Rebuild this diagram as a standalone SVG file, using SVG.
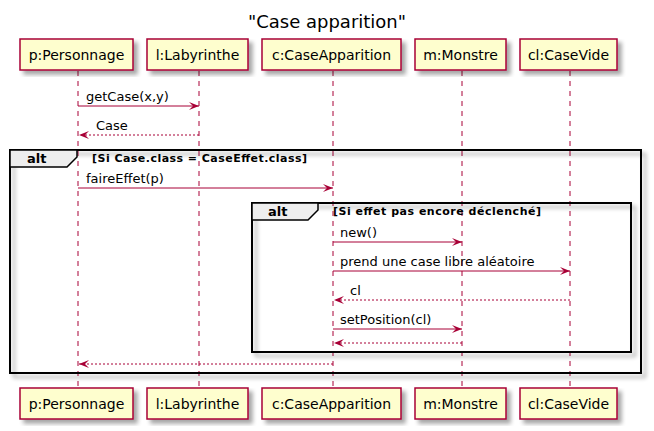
<svg xmlns="http://www.w3.org/2000/svg" width="654" height="431" viewBox="0 0 654 431">
<defs>
<filter id="sh" x="-10%" y="-10%" width="130%" height="130%">
<feGaussianBlur in="SourceAlpha" stdDeviation="2"/>
<feOffset dx="4" dy="4" result="b"/>
<feComponentTransfer><feFuncA type="linear" slope="0.35"/></feComponentTransfer>
<feMerge><feMergeNode/><feMergeNode in="SourceGraphic"/></feMerge>
</filter>
<marker id="ah" viewBox="0 0 10 8" refX="10" refY="4" markerWidth="10" markerHeight="8" markerUnits="userSpaceOnUse" orient="auto">
<polygon points="0,0 10,4 0,8 4,4" fill="#A80036"/>
</marker>
</defs>
<style>
text{font-family:"DejaVu Sans","Liberation Sans",sans-serif;fill:#000}
.box{fill:#FEFECE;stroke:#A80036;stroke-width:1.5}
.pt{font-size:14px;text-anchor:middle}
.life{stroke:#A80036;stroke-width:1;stroke-dasharray:5,5;fill:none}
.msg{stroke:#A80036;stroke-width:1;fill:none;marker-end:url(#ah)}
.ret{stroke:#A80036;stroke-width:1;stroke-dasharray:2,2;fill:none;marker-end:url(#ah)}
.ml{font-size:13px}
.frame{fill:none;stroke:#000;stroke-width:2}
.tab{fill:#EEEEEE;stroke:#000;stroke-width:1.5}
.alt{font-size:13px;font-weight:bold}
.cond{font-size:11px;font-weight:bold}
</style>
<text x="327" y="28" style="font-size:18px;text-anchor:middle">"Case apparition"</text>

<g id="lifelines">
<line class="life" x1="78" y1="71" x2="78" y2="388"/>
<line class="life" x1="199" y1="71" x2="199" y2="388"/>
<line class="life" x1="333" y1="71" x2="333" y2="388"/>
<line class="life" x1="462" y1="71" x2="462" y2="388"/>
<line class="life" x1="570" y1="71" x2="570" y2="388"/>
</g>

<g id="frame-outer">
<rect x="10" y="150" width="631" height="223" fill="none" stroke="#000" stroke-width="2" filter="url(#sh)"/>
<polygon class="tab" points="10,150 77,150 77,157 67,167 10,167"/>
<text class="alt" x="27" y="163">alt</text>
<text class="cond" x="92" y="162" textLength="215" lengthAdjust="spacing">[Si Case.class = CaseEffet.class]</text>
</g>

<g id="frame-inner">
<rect x="252" y="203" width="379" height="149" fill="none" stroke="#000" stroke-width="2" filter="url(#sh)"/>
<polygon class="tab" points="252,203 318,203 318,210 308,220 252,220"/>
<text class="alt" x="268" y="216">alt</text>
<text class="cond" x="333" y="215" textLength="208" lengthAdjust="spacing">[Si effet pas encore déclenché]</text>
</g>

<g id="p-top"><rect class="box" x="20" y="39" width="113" height="31" filter="url(#sh)"/><text class="pt" x="76.5" y="60">p:Personnage</text></g>
<g id="l-top"><rect class="box" x="147" y="39" width="101" height="31" filter="url(#sh)"/><text class="pt" x="197.5" y="60">l:Labyrinthe</text></g>
<g id="c-top"><rect class="box" x="262" y="39" width="139" height="31" filter="url(#sh)"/><text class="pt" x="331.5" y="60">c:CaseApparition</text></g>
<g id="m-top"><rect class="box" x="415" y="39" width="91" height="31" filter="url(#sh)"/><text class="pt" x="460.5" y="60">m:Monstre</text></g>
<g id="cl-top"><rect class="box" x="520" y="39" width="97" height="31" filter="url(#sh)"/><text class="pt" x="568.5" y="60">cl:CaseVide</text></g>

<g id="p-bottom"><rect class="box" x="20" y="388" width="113" height="31" filter="url(#sh)"/><text class="pt" x="76.5" y="409">p:Personnage</text></g>
<g id="l-bottom"><rect class="box" x="147" y="388" width="101" height="31" filter="url(#sh)"/><text class="pt" x="197.5" y="409">l:Labyrinthe</text></g>
<g id="c-bottom"><rect class="box" x="262" y="388" width="139" height="31" filter="url(#sh)"/><text class="pt" x="331.5" y="409">c:CaseApparition</text></g>
<g id="m-bottom"><rect class="box" x="415" y="388" width="91" height="31" filter="url(#sh)"/><text class="pt" x="460.5" y="409">m:Monstre</text></g>
<g id="cl-bottom"><rect class="box" x="520" y="388" width="97" height="31" filter="url(#sh)"/><text class="pt" x="568.5" y="409">cl:CaseVide</text></g>

<g id="connectors">
<line class="msg" x1="78" y1="106" x2="199" y2="106"/>
<text class="ml" x="86" y="101">getCase(x,y)</text>
<line class="ret" x1="199" y1="135" x2="79" y2="135"/>
<text class="ml" x="96" y="130">Case</text>
<line class="msg" x1="78" y1="188" x2="333" y2="188"/>
<text class="ml" x="86" y="183">faireEffet(p)</text>
<line class="msg" x1="333" y1="242" x2="462" y2="242"/>
<text class="ml" x="340" y="237">new()</text>
<line class="msg" x1="333" y1="271" x2="570" y2="271"/>
<text class="ml" x="340" y="266">prend une case libre aléatoire</text>
<line class="ret" x1="570" y1="300" x2="334" y2="300"/>
<text class="ml" x="350" y="295">cl</text>
<line class="msg" x1="333" y1="329" x2="462" y2="329"/>
<text class="ml" x="340" y="324">setPosition(cl)</text>
<line class="ret" x1="462" y1="343" x2="334" y2="343"/>
<line class="ret" x1="333" y1="364" x2="79" y2="364"/>
</g>
</svg>
